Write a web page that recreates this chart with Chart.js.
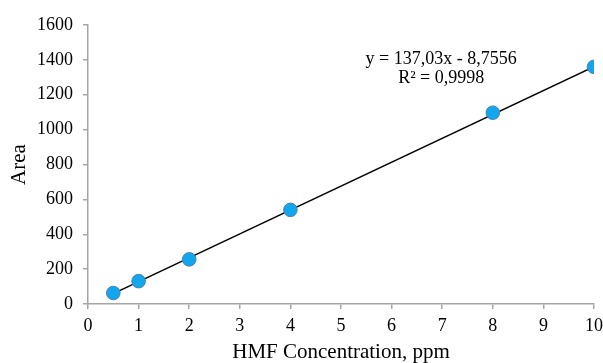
<!DOCTYPE html>
<html>
<head>
<meta charset="utf-8">
<script src="https://cdn.jsdelivr.net/npm/chart.js@4"></script>
<style>
html,body{margin:0;padding:0;background:#fff;}
#wrap{width:603px;height:363px;position:relative;}
</style>
</head>
<body>
<div id="wrap"><canvas id="c" width="603" height="363"></canvas></div>
<script>
const concentrations = [0.5, 1, 2, 4, 8, 10];
const areas = [63, 131, 256, 540, 1097, 1360];
const trendSlope = 137.03;
const trendIntercept = -8.7556;
const trendRange = [0.5, 10];
const equationLines = ['y = 137,03x - 8,7556', 'R\u00b2 = 0,9998'];
const xTicks = [0,1,2,3,4,5,6,7,8,9,10];
const yTicks = [0,200,400,600,800,1000,1200,1400,1600];

const FONT = "'Liberation Serif', 'Times New Roman', serif";
const AXIS = '#a6a6a6';

const points = concentrations.map((x, i) => ({x: x, y: areas[i]}));
const trend = trendRange.map(x => ({x: x, y: trendSlope * x + trendIntercept}));

const eqPlugin = {
  id: 'eq',
  afterDatasetsDraw(chart) {
    const ctx = chart.ctx;
    const xs = chart.scales.x, ys = chart.scales.y;
    const cx = xs.getPixelForValue(6.98);
    const cy = ys.getPixelForValue(1403);
    ctx.save();
    ctx.fillStyle = '#000';
    ctx.font = '18px ' + FONT;
    ctx.textAlign = 'center';
    ctx.textBaseline = 'middle';
    ctx.fillText(equationLines[0], cx, cy);
    ctx.fillText(equationLines[1], cx, cy + 19);
    ctx.restore();
  }
};

new Chart(document.getElementById('c'), {
  type: 'scatter',
  data: {
    datasets: [
      {
        type: 'line',
        data: trend,
        borderColor: '#000',
        borderWidth: 1.5,
        pointRadius: 0,
        fill: false,
        order: 2
      },
      {
        data: points,
        backgroundColor: '#12a6ec',
        borderColor: '#4a7fb8',
        borderWidth: 1,
        pointRadius: 6.8,
        order: 1
      }
    ]
  },
  options: {
    responsive: false,
    animation: false,
    devicePixelRatio: 1,
    layout: {padding: {top: 25, right: 9, left: 0, bottom: 0}},
    plugins: {legend: {display: false}, tooltip: {enabled: false}},
    scales: {
      x: {
        type: 'linear',
        min: 0, max: 10,
        afterBuildTicks: s => { s.ticks = xTicks.map(v => ({value: v})); },
        afterFit: s => { s.height = 59; s.paddingRight = 0; s.paddingLeft = 0; },
        border: {color: AXIS, width: 1.5},
        grid: {drawOnChartArea: false, drawTicks: true, tickLength: 5, color: AXIS, lineWidth: 1.5},
        ticks: {color: '#000', font: {family: FONT, size: 18}, padding: 6, maxRotation: 0, autoSkip: false,
                callback: v => String(v)},
        title: {display: true, text: 'HMF Concentration, ppm', color: '#000', font: {family: FONT, size: 21, lineHeight: 1.0}, padding: {top: 0, bottom: 0}}
      },
      y: {
        type: 'linear',
        min: 0, max: 1600,
        afterBuildTicks: s => { s.ticks = yTicks.map(v => ({value: v})); },
        afterFit: s => { s.width = 88; },
        border: {color: AXIS, width: 1.5},
        grid: {drawOnChartArea: false, drawTicks: true, tickLength: 5, color: AXIS, lineWidth: 1.5},
        ticks: {color: '#000', font: {family: FONT, size: 18}, padding: 10, autoSkip: false,
                callback: v => String(v)},
        title: {display: true, text: 'Area', color: '#000', font: {family: FONT, size: 21, lineHeight: 1.0}, padding: {top: 9, bottom: 0}}
      }
    }
  },
  plugins: [eqPlugin]
});
</script>
</body>
</html>
